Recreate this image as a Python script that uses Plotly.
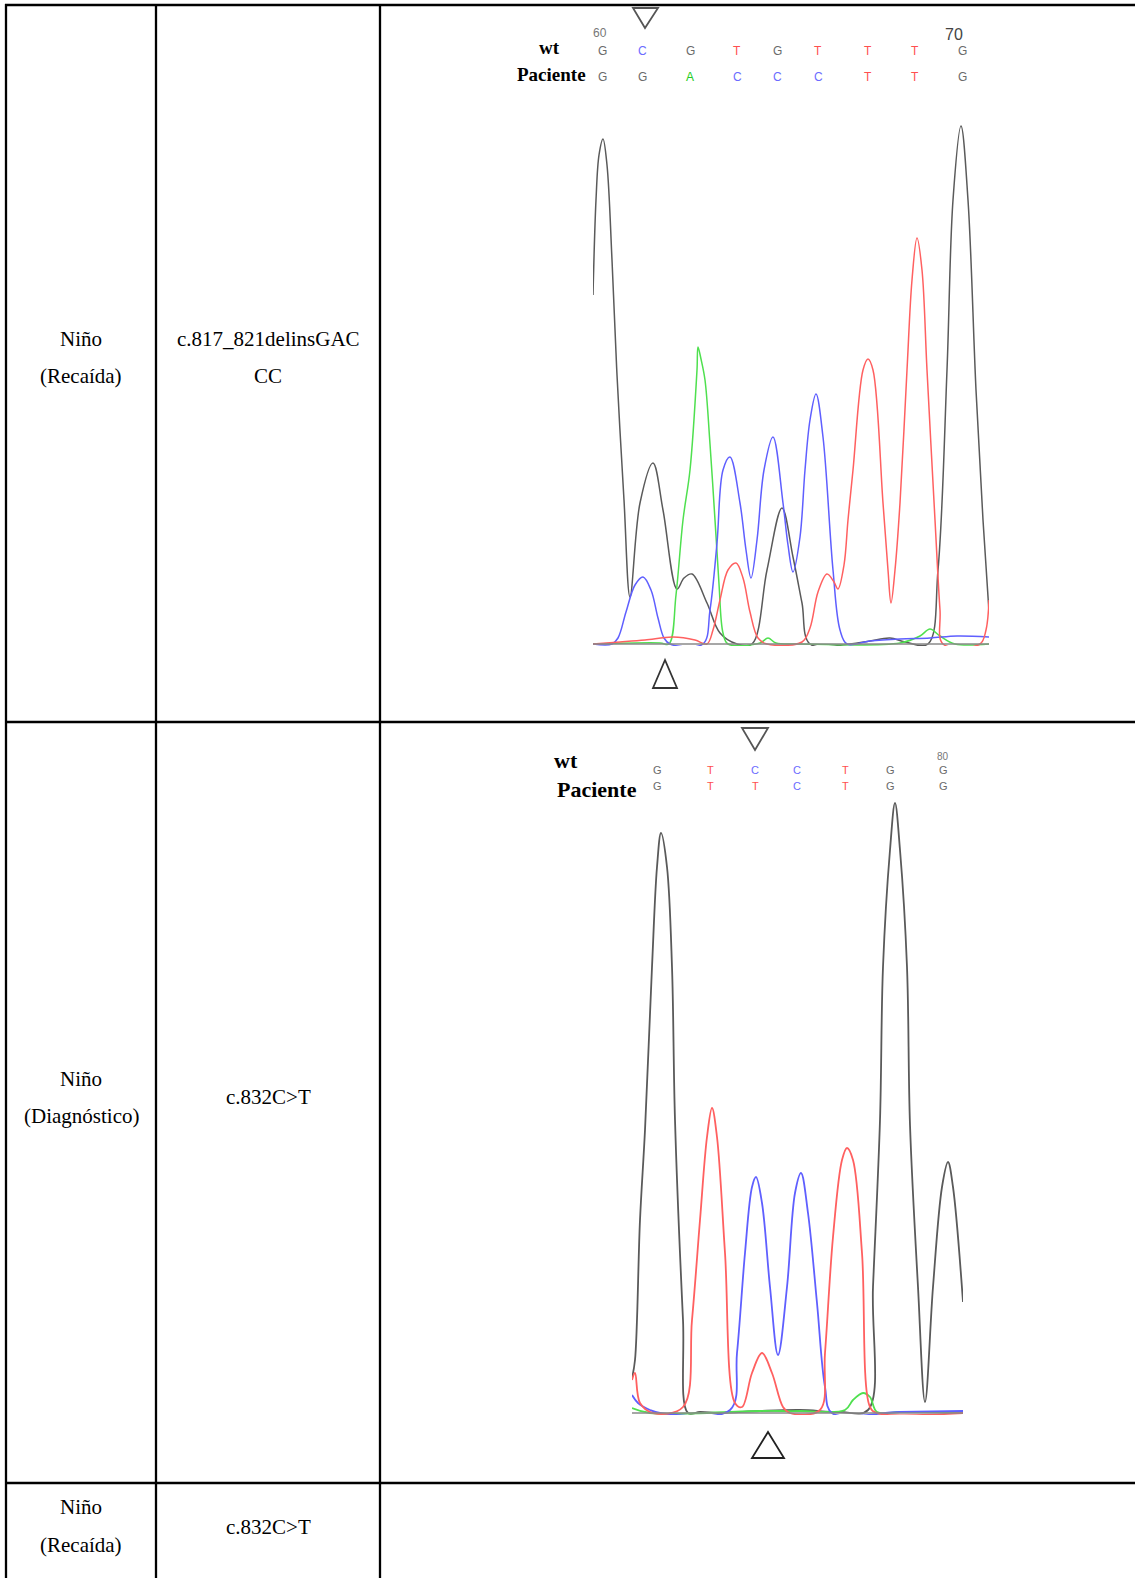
import plotly.graph_objects as go

W, H = 1135, 1578

# ---------------- table text ----------------
patient_line1 = ["Niño", "Niño", "Niño"]
patient_line2 = ["(Recaída)", "(Diagnóstico)", "(Recaída)"]
mutation_lines = [["c.817_821delinsGAC", "CC"], ["c.832C>T"], ["c.832C>T"]]

# ---------------- chromatogram 1 (c.817_821delinsGACCC) ----------------
top_black_x = [593, 596, 599, 603, 607, 612, 617, 624, 630, 640, 653, 663, 677, 684, 692, 707, 720, 737,
               752, 767, 782, 793, 802, 810, 850, 870, 890, 905, 928, 938, 947, 953, 961, 968, 976, 983, 989]
top_black_y = [349, 444, 489, 505, 479, 384, 269, 144, 47, 141, 181, 134, 55, 66, 70, 41, 11, 0,
               0, 74, 136, 87, 41, 0, 0, 3, 6, 2, 0, 74, 274, 444, 518, 444, 254, 124, 32]

top_green_x = [593, 660, 669, 676, 683, 690, 697, 698, 701, 705, 710, 715, 719, 723, 728, 760, 768, 776,
               800, 900, 920, 930, 940, 955, 989]
top_green_y = [0, 1, 0, 49, 124, 174, 274, 297, 285, 264, 200, 124, 60, 11, 0, 1, 6, 1,
               0, 1, 8, 15, 8, 0, 0]

top_blue_x = [593, 612, 618, 626, 635, 643, 651, 658, 664, 670, 703, 710, 717, 723, 730, 740, 746, 751,
              757, 764, 773, 783, 788, 793, 800, 805, 810, 816, 823, 833, 840, 847, 870, 900, 930, 957, 989]
top_blue_y = [0, 0, 6, 32, 59, 67, 54, 26, 6, 0, 0, 34, 101, 174, 187, 141, 94, 66,
              104, 174, 207, 141, 99, 72, 107, 174, 224, 250, 207, 74, 14, 0, 3, 5, 6, 8, 7]

top_red_x = [593, 620, 645, 673, 695, 707, 713, 720, 728, 736, 743, 750, 758, 767, 802, 810, 818, 827,
             834, 838, 844, 848, 853, 863, 868, 873, 883, 888, 891, 895, 900, 907, 912, 917, 922, 927,
             935, 940, 943, 980, 986, 989]
top_red_y = [0, 2, 4, 7, 4, 0, 14, 44, 74, 81, 66, 32, 6, 0, 2, 16, 52, 70,
             62, 55, 79, 124, 174, 274, 285, 274, 141, 74, 41, 74, 141, 274, 364, 406, 374, 274,
             124, 34, 0, 0, 14, 44]

top_base_x = [602, 642, 690, 737, 777, 818, 868, 915, 962]
top_wt = ["G", "C", "G", "T", "G", "T", "T", "T", "G"]
top_pac = ["G", "G", "A", "C", "C", "C", "T", "T", "G"]

# ---------------- chromatogram 2 (c.832C>T) ----------------
bot_black_x = [632, 635, 640, 645, 652, 657, 661, 667, 672, 675, 683, 688, 700, 720, 760, 800, 840,
               868, 873, 880, 883, 890, 895, 900, 907, 910, 918, 925, 933, 942, 948, 953, 963]
bot_black_y = [35, 53, 193, 283, 446, 546, 580, 546, 446, 293, 93, 0, 1, 0, 2, 3, 1,
               3, 126, 293, 446, 563, 610, 563, 446, 288, 126, 11, 126, 226, 251, 226, 111]

bot_red_x = [632, 635, 640, 653, 683, 692, 700, 707, 712, 717, 725, 735, 742, 752, 762, 772, 783, 790,
             820, 825, 833, 842, 847, 853, 862, 870, 877, 963]
bot_red_y = [33, 40, 10, 0, 6, 93, 193, 276, 305, 276, 160, 10, 6, 40, 60, 40, 6, 0,
             3, 60, 176, 253, 265, 253, 160, 6, 0, 0]

bot_blue_x = [632, 638, 650, 660, 730, 737, 745, 752, 756, 762, 770, 778, 787, 795, 801, 808, 817,
              825, 832, 900, 963]
bot_blue_y = [18, 10, 3, 0, 3, 60, 160, 226, 236, 210, 126, 58, 126, 220, 240, 200, 110,
              26, 0, 1, 2]

bot_green_x = [632, 650, 760, 800, 845, 853, 863, 870, 877, 900, 963]
bot_green_y = [5, 0, 2, 2, 3, 13, 20, 16, 1, 1, 1]

bot_base_x = [657, 710, 755, 797, 845, 890, 943]
bot_wt = ["G", "T", "C", "C", "T", "G", "G"]
bot_pac = ["G", "T", "T", "C", "T", "G", "G"]

base_colors = {"G": "#6a6a6a", "C": "#6b6bff", "T": "#ff4f4f", "A": "#22cc22"}
trace_colors = {"black": "#5a5a5a", "green": "#4fe04f", "blue": "#5f5fff", "red": "#ff6060"}

SERIF = "Liberation Serif, Times New Roman, serif"
SANS = "Liberation Sans, Arial, sans-serif"

fig = go.Figure()


def add_trace(x, y, color, axis, width):
    fig.add_trace(go.Scatter(
        x=x, y=y, mode="lines", xaxis="x" + axis, yaxis="y" + axis,
        line=dict(color=color, width=width, shape="spline", smoothing=1.0),
        hoverinfo="skip", showlegend=False))


add_trace(top_black_x, top_black_y, trace_colors["black"], "", 1.5)
add_trace(top_green_x, top_green_y, trace_colors["green"], "", 1.5)
add_trace(top_blue_x, top_blue_y, trace_colors["blue"], "", 1.5)
add_trace(top_red_x, top_red_y, trace_colors["red"], "", 1.5)

add_trace(bot_black_x, bot_black_y, trace_colors["black"], "2", 1.8)
add_trace(bot_green_x, bot_green_y, trace_colors["green"], "2", 1.8)
add_trace(bot_blue_x, bot_blue_y, trace_colors["blue"], "2", 1.8)
add_trace(bot_red_x, bot_red_y, trace_colors["red"], "2", 1.8)

# invisible trace for the overlay (pixel) axis
fig.add_trace(go.Scatter(x=[0], y=[0], mode="markers", xaxis="x3", yaxis="y3",
                         marker=dict(opacity=0), hoverinfo="skip", showlegend=False))


def py(v):
    return (H - v) / H


hidden = dict(visible=False, fixedrange=True)
fig.update_layout(
    width=W, height=H, margin=dict(l=0, r=0, t=0, b=0),
    paper_bgcolor="white", plot_bgcolor="rgba(0,0,0,0)", showlegend=False,
    xaxis=dict(domain=[593 / W, 989 / W], range=[593, 989], **hidden),
    yaxis=dict(domain=[py(646), py(100)], range=[-2, 544], **hidden),
    xaxis2=dict(domain=[632 / W, 963 / W], range=[632, 963], anchor="y2", **hidden),
    yaxis2=dict(domain=[py(1415), py(790)], range=[-2, 623], anchor="x2", **hidden),
    xaxis3=dict(domain=[0, 1], range=[0, W], anchor="y3", **hidden),
    yaxis3=dict(domain=[0, 1], range=[H, 0], anchor="x3", **hidden),
)

shapes = []
lw = 2.3
# table grid
for yy in [5, 722, 1483]:
    shapes.append(dict(type="line", xref="x3", yref="y3", x0=5, x1=W, y0=yy, y1=yy,
                       line=dict(color="black", width=lw)))
for xx in [6, 156, 380]:
    shapes.append(dict(type="line", xref="x3", yref="y3", x0=xx, x1=xx, y0=4, y1=H,
                       line=dict(color="black", width=lw)))
# baselines
shapes.append(dict(type="line", xref="x3", yref="y3", x0=593, x1=989, y0=644, y1=644,
                   line=dict(color="#8a8a8a", width=1.5)))
shapes.append(dict(type="line", xref="x3", yref="y3", x0=632, x1=963, y0=1413, y1=1413,
                   line=dict(color="#8a8a8a", width=1.5)))
# mutation triangles
tri = [
    ("M 633 8 L 658 8 L 645 28 Z", "#555555"),
    ("M 665 660 L 653 688 L 677 688 Z", "#333333"),
    ("M 742 728 L 768 728 L 755 750 Z", "#555555"),
    ("M 768 1432 L 752 1458 L 784 1458 Z", "#222222"),
]
for p, c in tri:
    shapes.append(dict(type="path", xref="x3", yref="y3", path=p,
                       line=dict(color=c, width=1.8)))
fig.update_layout(shapes=shapes)

ann = []


def text(x, y, s, size, color="black", family=SERIF, bold=False):
    ann.append(dict(xref="x3", yref="y3", x=x, y=y, text=("<b>%s</b>" % s) if bold else s,
                    showarrow=False, xanchor="center", yanchor="middle",
                    font=dict(family=family, size=size, color=color)))


# table cells
row_y = [(339, 376, [339, 376]), (1079, 1116, [1097]), (1507, 1545, [1527])]
for i, (y1, y2, my) in enumerate(row_y):
    text(81, y1, patient_line1[i], 21)
    text(81, y2, patient_line2[i], 21)
    for j, line in enumerate(mutation_lines[i]):
        text(268, my[j], line, 21)

# chromatogram 1 labels
text(549, 47, "wt", 19, bold=True)
text(551, 74, "Paciente", 19, bold=True)
text(600, 33, "60", 12, color="#777777", family=SANS)
text(954, 34, "70", 16, color="#444444", family=SANS)
for x, b in zip(top_base_x, top_wt):
    text(x, 51, b, 12, color=base_colors[b], family=SANS)
for x, b in zip(top_base_x, top_pac):
    text(x, 77, b, 12, color=base_colors[b], family=SANS)

# chromatogram 2 labels
text(566, 760, "wt", 22, bold=True)
text(597, 789, "Paciente", 22, bold=True)
text(943, 756, "80", 10, color="#777777", family=SANS)
for x, b in zip(bot_base_x, bot_wt):
    text(x, 770, b, 11, color=base_colors[b], family=SANS)
for x, b in zip(bot_base_x, bot_pac):
    text(x, 786, b, 11, color=base_colors[b], family=SANS)

fig.update_layout(annotations=ann)
fig.write_html("out.html",
               config={"displayModeBar": False, "staticPlot": True},
               post_script="document.body.style.margin='0';document.body.style.padding='0';"
                           "document.body.style.overflow='hidden';")
